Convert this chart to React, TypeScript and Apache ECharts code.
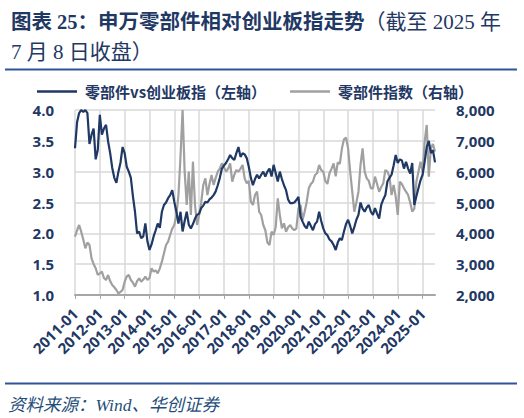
import React, { useEffect, useRef } from 'react';
import * as echarts from 'echarts';

// months 2011-01 .. 2025-07
const startYear = 2011;
const monthCount = 175;
const categories: string[] = [];
for (let i = 0; i < monthCount; i++) {
  const y = startYear + Math.floor(i / 12);
  const m = (i % 12) + 1;
  categories.push(`${y}-${m < 10 ? '0' + m : m}`);
}

// 零部件vs创业板指 (left axis)
const ratioValues = [
  3.38, 3.8, 3.95, 4.0, 3.97, 4.0, 3.95, 3.45, 3.6, 3.7, 3.2, 3.35,
  3.92, 3.6, 3.7, 3.76, 3.49, 3.3, 3.06, 2.9, 2.82, 3.0, 3.15, 3.4,
  3.3, 3.08, 3.0, 2.9, 2.6, 2.35, 2.0, 2.03, 1.92, 1.95, 2.16, 1.87,
  1.73, 1.82, 1.95, 2.05, 2.16, 2.09, 2.35, 2.46, 2.5, 2.57, 2.62, 2.7,
  2.51, 2.35, 2.16, 2.35, 2.03, 2.2, 2.35, 2.14, 2.08, 2.15, 2.24, 2.3,
  2.32, 2.41, 2.45, 2.51, 2.5, 2.55, 2.58, 2.62, 2.68, 2.78, 2.9, 3.05,
  3.1, 3.14, 3.2, 3.27, 3.22, 3.19, 3.3, 3.4, 3.24, 3.3, 3.28, 3.22,
  3.08, 2.9, 2.78, 2.88, 2.95, 2.89, 2.95, 3.0, 2.92, 3.0, 3.05, 2.92,
  3.11, 2.98, 2.84, 3.0, 2.88, 2.78, 2.7, 2.55, 2.49, 2.49, 2.5, 2.54,
  2.59, 2.27, 2.19, 2.12, 2.08, 2.19, 2.12, 2.05, 2.15, 2.19, 2.35, 2.2,
  2.08, 2.0, 1.97, 1.9, 1.87, 1.81, 1.73, 1.85, 1.92, 1.89, 2.03, 2.15,
  2.22, 2.12, 2.0, 2.1, 2.22, 2.3, 2.5, 2.4, 2.35, 2.42, 2.46, 2.35,
  2.3, 2.41, 2.32, 2.24, 2.46, 2.55, 2.62, 2.84, 2.9, 2.95, 3.1, 3.27,
  3.14, 3.2, 3.18, 3.05, 3.16, 3.05, 2.97, 3.14, 2.46, 2.6, 2.73, 2.86,
  2.95, 3.16, 3.4, 3.5, 3.3, 3.35, 3.15,
];

// 零部件指数 (right axis)
const indexValues = [
  3891, 4100, 4270, 4054, 3800, 3515, 3700, 3622, 3190, 3000, 2866, 2649,
  2700, 2757, 2550, 2487, 2649, 2450, 2325, 2250, 2162, 2054, 2100, 2162,
  2432, 2600, 2649, 2487, 2400, 2270, 2450, 2541, 2432, 2500, 2595, 2487,
  2550, 2866, 2757, 2800, 2703, 2866, 3081, 3352, 3622, 3730, 3946, 4150,
  4270, 4595, 5243, 6500, 8000, 6000, 4919, 6000, 4595, 6324, 4919, 4270,
  4595, 5000, 5568, 5784, 5243, 5600, 5892, 5568, 5800, 6000, 6100, 6270,
  6150, 6000, 6100, 6270, 5676, 5900, 6054, 6000, 6100, 6216, 5784, 5622,
  5700, 5027, 4919, 5243, 5351, 4700, 4595, 4270, 4100, 3700, 3622, 4054,
  3946, 4200, 5135, 4595, 4162, 4324, 4054, 4200, 4270, 4162, 4100, 4162,
  4811, 4919, 4432, 4700, 5027, 5460, 5600, 5676, 5892, 5950, 6216, 6050,
  6000, 5700, 5600, 5950, 6100, 6270, 5850, 6300, 6250, 6750, 7050, 7100,
  6757, 6000, 5351, 4703, 5000, 5351, 6216, 6757, 6000, 5784, 5700, 5460,
  5460, 5838, 5600, 5351, 5500, 5622, 6054, 6000, 5838, 5243, 5568, 5200,
  4595, 5676, 5600, 5460, 5350, 5243, 5000, 4703, 4800, 5676, 6000, 6324,
  6000, 6973, 7514, 5838, 6757, 6900, 6650,
];

const navy = '#1F3864';
const gray = '#A0A0A0';
const axisFont = "'Open Sans', 'Noto Sans CJK SC', sans-serif";
const serifCjk = "'Liberation Serif', 'Noto Sans CJK SC', serif";
const isYearStart = (i: number) => i % 12 === 0;

const App: React.FC = () => {
  const chartRef = useRef<HTMLDivElement>(null);

  useEffect(() => {
    if (!chartRef.current) return;
    const chart = echarts.init(chartRef.current, undefined, { renderer: 'svg' });

    const option = {
      animation: false,
      backgroundColor: '#ffffff',
      title: {
        left: 6,
        top: 2,
        text: '{a|图表 25：申万零部件相对创业板指走势}{b|（截至 2025 年}\n{b|7 月 8 日收盘）}',
        textStyle: {
          rich: {
            a: { fontSize: 20.5, fontWeight: 'bold', color: navy, fontFamily: serifCjk, lineHeight: 30 },
            b: { fontSize: 21, fontWeight: 'normal', color: navy, fontFamily: serifCjk, lineHeight: 30 },
          },
        },
      },
      graphic: [
        {
          type: 'line',
          shape: { x1: 5, y1: 69.5, x2: 517, y2: 69.5 },
          style: { stroke: '#2F5597', lineWidth: 2 },
        },
        {
          type: 'line',
          shape: { x1: 5, y1: 383.5, x2: 517, y2: 383.5 },
          style: { stroke: '#2F5597', lineWidth: 2 },
        },
        {
          type: 'text',
          left: 8,
          top: 396,
          style: {
            text: '资料来源：Wind、华创证券',
            fontSize: 17.5,
            fontStyle: 'italic',
            fill: '#1F4E79',
            fontFamily: serifCjk,
          },
        },
      ],
      legend: {
        top: 79,
        left: 32,
        icon: 'rect',
        itemWidth: 40,
        itemHeight: 2.5,
        itemGap: 24,
        textStyle: {
          fontSize: 15,
          fontWeight: 'bold',
          color: navy,
          fontFamily: "'Noto Sans CJK SC', sans-serif",
          padding: [0, 0, 0, 3],
        },
        data: ['零部件vs创业板指（左轴）', '零部件指数（右轴）'],
      },
      grid: {
        left: 75,
        right: 89,
        top: 110,
        bottom: 123,
        containLabel: false,
      },
      xAxis: {
        type: 'category',
        data: categories,
        boundaryGap: false,
        axisLine: { lineStyle: { color: '#A6A6A6', width: 2 } },
        axisTick: {
          show: true,
          interval: (i: number) => isYearStart(i),
          length: 4,
          lineStyle: { color: '#A6A6A6' },
        },
        axisLabel: {
          interval: (i: number) => isYearStart(i),
          rotate: 45,
          margin: 16,
          fontSize: 15,
          fontWeight: 'bold',
          color: navy,
          fontFamily: axisFont,
        },
        splitLine: {
          show: true,
          interval: (i: number) => isYearStart(i),
          lineStyle: { color: '#D9D9D9', width: 1.5 },
        },
      },
      yAxis: [
        {
          type: 'value',
          min: 1,
          max: 4,
          interval: 0.5,
          axisLine: { show: false },
          axisTick: { show: false },
          axisLabel: {
            margin: 21,
            fontSize: 15,
            fontWeight: 'bold',
            color: navy,
            fontFamily: axisFont,
            formatter: (v: number) => v.toFixed(1),
          },
          splitLine: { lineStyle: { color: '#D9D9D9', width: 1.5 } },
        },
        {
          type: 'value',
          min: 2000,
          max: 8000,
          interval: 1000,
          axisLine: { show: false },
          axisTick: { show: false },
          axisLabel: {
            margin: 21,
            fontSize: 15,
            fontWeight: 'bold',
            color: navy,
            fontFamily: axisFont,
            formatter: (v: number) => v.toLocaleString('en-US'),
          },
          splitLine: { show: false },
        },
      ],
      series: [
        {
          name: '零部件vs创业板指（左轴）',
          type: 'line',
          yAxisIndex: 0,
          data: ratioValues,
          symbol: 'none',
          lineStyle: { color: navy, width: 2.2 },
          itemStyle: { color: navy },
          z: 3,
        },
        {
          name: '零部件指数（右轴）',
          type: 'line',
          yAxisIndex: 1,
          data: indexValues,
          symbol: 'none',
          lineStyle: { color: gray, width: 2.2 },
          itemStyle: { color: gray },
          z: 2,
        },
      ],
    };

    chart.setOption(option);
    return () => {
      chart.dispose();
    };
  }, []);

  return (
    <div
      ref={chartRef}
      style={{ position: 'absolute', left: 0, top: 0, width: '524px', height: '418px' }}
    />
  );
};

export default App;
